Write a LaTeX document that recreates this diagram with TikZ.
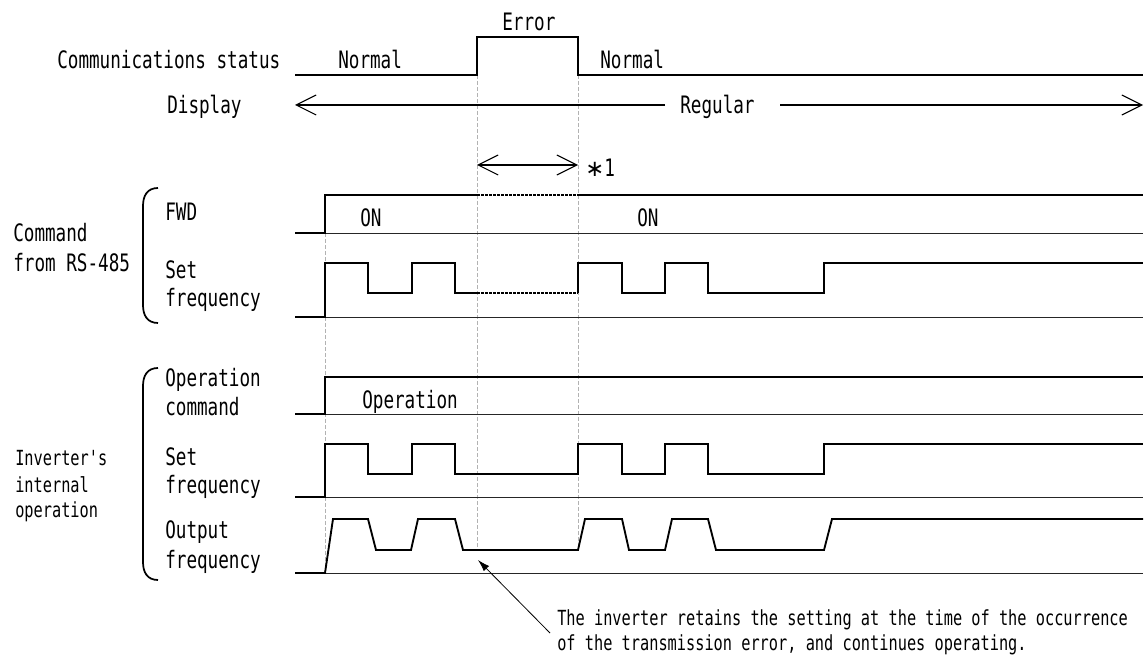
\documentclass[tikz,border=0pt]{standalone}
\usepackage{fontspec}
\newfontfamily\gothic[FakeStretch=0.735]{DejaVu Sans Mono}
\newfontfamily\symf{DejaVu Sans}
\usetikzlibrary{arrows.meta}
\begin{document}
\begin{tikzpicture}[x=0.75pt,y=-0.75pt,
  lbl/.style={anchor=west,inner sep=0pt,text height=13pt,text depth=0pt,font=\gothic\fontsize{18pt}{21pt}\selectfont},
  slbl/.style={anchor=west,inner sep=0pt,text height=11.4pt,text depth=0pt,font=\gothic\fontsize{15.6pt}{18pt}\selectfont},
  sig/.style={line width=1.4pt,line join=miter},
  baseln/.style={line width=0.7pt,black!85},
  gapln/.style={line width=1.6pt,dash pattern=on 2pt off 1pt},
  guide/.style={line width=0.5pt,gray!60,dash pattern=on 3pt off 1.5pt},
  brk/.style={line width=1.3pt},
  barbR/.style={line width=0.8pt,-{Straight Barb[length=15pt,width=15pt]}},
  barbLR/.style={line width=0.8pt,{Straight Barb[length=15pt,width=15pt]}-{Straight Barb[length=15pt,width=15pt]}},
  note/.style={line width=0.6pt,-{Latex[length=9pt,width=5.5pt]}},
]
\useasboundingbox (0,0) rectangle (1145,655);

% guide lines
\draw[guide] (325,233) -- (325,573);
\draw[guide] (477,75) -- (477,550);
\draw[guide] (578,75) -- (578,550);

% top texts
\node[lbl] (err) at (502,22) {Error};
\node[lbl] (commst) at (57,60) {Communications status};
\node[lbl] (norm1) at (338,60) {Normal};
\node[lbl] (norm2) at (600,60) {Normal};
\node[lbl] (disp) at (167,105) {Display};
\node[lbl] (reg) at (680,105) {Regular};

% communications status signal
\draw[sig] (295,75) -- (477,75) -- (477,37) -- (578,37) -- (578,75) -- (1143,75);

% display arrows
\coordinate (dispL) at (295,105);
\coordinate (regL) at (665,105);
\coordinate (regR) at (780,105);
\coordinate (dispR) at (1143,105);
\draw[barbR] (regL) -- (dispL);
\draw[barbR] (regR) -- (dispR);

% *1 arrow
\coordinate (errA) at (477,165);
\coordinate (errB) at (578,165);
\draw[barbLR] (errA) -- (errB);
\node[lbl] (star) at (585,168) {{\symf\fontsize{17pt}{20pt}\selectfont ∗}1};

% RS-485 group
\node[lbl] (cmd1) at (13,233) {Command};
\node[lbl] (cmd2) at (13,263) {from RS-485};
\draw[brk] (158,188) .. controls (147,188) and (143,196) .. (143,206) -- (143,305) .. controls (143,315) and (147,323) .. (158,323);
\node[lbl] (fwd) at (165,212) {FWD};
\node[lbl] (set1a) at (165,270) {Set};
\node[lbl] (set1b) at (165,298) {frequency};
\node[lbl] (on1) at (360,218) {ON};
\node[lbl] (on2) at (637,218) {ON};

% FWD
\draw[baseln] (295,233) -- (1143,233);
\draw[sig] (295,233) -- (325,233) -- (325,195) -- (477,195);
\draw[gapln] (477,195) -- (578,195);
\draw[sig] (578,195) -- (1143,195);

% Set frequency (RS-485)
\draw[baseln] (295,317) -- (1143,317);
\draw[sig] (295,317) -- (325,317) -- (325,263) -- (368,263) -- (368,293) -- (412,293) -- (412,263) -- (455,263) -- (455,293) -- (477,293);
\draw[gapln] (477,293) -- (578,293);
\draw[sig] (578,293) -- (578,263) -- (622,263) -- (622,293) -- (665,293) -- (665,263) -- (708,263) -- (708,293) -- (824,293) -- (824,263) -- (1143,263);

% Inverter group
\node[slbl] (inv1) at (15,458) {Inverter's};
\node[slbl] (inv2) at (15,485) {internal};
\node[slbl] (inv3) at (15,510) {operation};
\draw[brk] (158,368) .. controls (147,368) and (143,376) .. (143,386) -- (143,562) .. controls (143,572) and (147,580) .. (158,580);
\node[lbl] (op1) at (165,378) {Operation};
\node[lbl] (op2) at (165,407) {command};
\node[lbl] (opsig) at (362,400) {Operation};
\node[lbl] (set2a) at (165,457) {Set};
\node[lbl] (set2b) at (165,485) {frequency};
\node[lbl] (out1) at (165,530) {Output};
\node[lbl] (out2) at (165,560) {frequency};

% Operation command
\draw[baseln] (295,414) -- (1143,414);
\draw[sig] (295,414) -- (325,414) -- (325,377) -- (1143,377);

% Set frequency (inverter)
\draw[baseln] (295,497) -- (1143,497);
\draw[sig] (295,497) -- (325,497) -- (325,444) -- (368,444) -- (368,474) -- (412,474) -- (412,444) -- (455,444) -- (455,474) -- (578,474) -- (578,444) -- (622,444) -- (622,474) -- (665,474) -- (665,444) -- (708,444) -- (708,474) -- (824,474) -- (824,444) -- (1143,444);

% Output frequency
\draw[baseln] (295,573) -- (1143,573);
\draw[sig] (295,573) -- (325,573) -- (333,519) -- (368,519) -- (376,550) -- (411,550) -- (418,519) -- (455,519) -- (463,550) -- (578,550) -- (585,519) -- (622,519) -- (629,550) -- (665,550) -- (672,519) -- (708,519) -- (716,550) -- (824,550) -- (832,519) -- (1143,519);

% annotation
\node[slbl] (ann1) at (557,618) {The inverter retains the setting at the time of the occurrence};
\node[slbl] (ann2) at (557,643) {of the transmission error, and continues operating.};
\coordinate (annTail) at (550,633);
\coordinate (annTip) at (478,560);
\draw[note] (annTail) -- (annTip);
\end{tikzpicture}
\end{document}
